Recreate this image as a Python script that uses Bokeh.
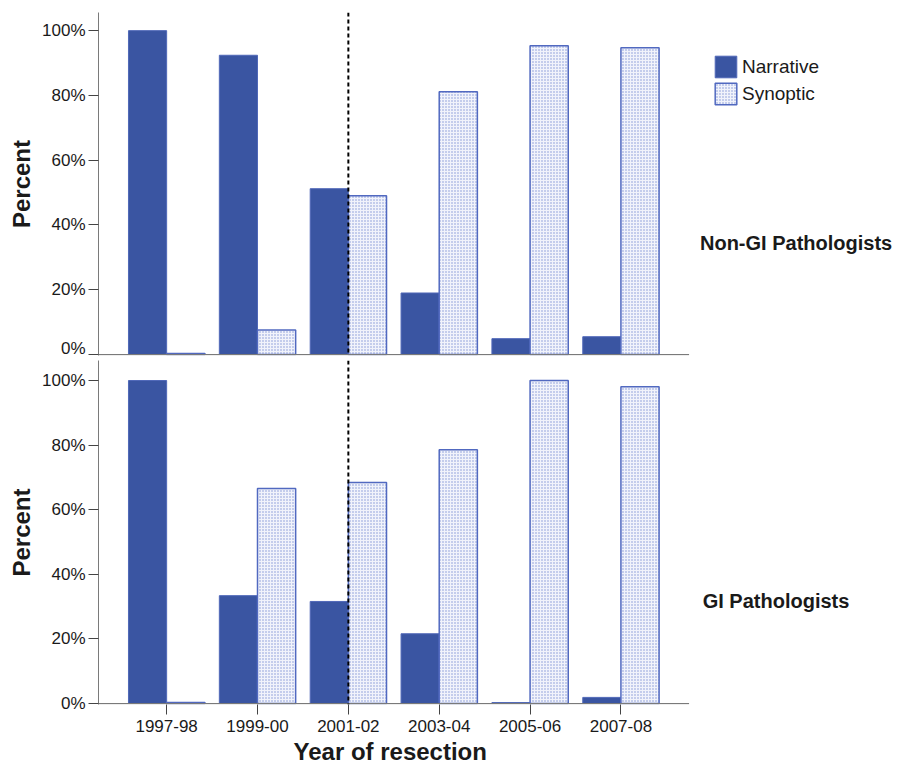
from bokeh.plotting import figure
from bokeh.models import (Range1d, FixedTicker, PrintfTickFormatter, Span, Label,
                          Legend, LegendItem, ColumnDataSource, Title)
from bokeh.transform import dodge
from bokeh.layouts import column
from bokeh.embed import file_html
from bokeh.resources import INLINE

# ---- data ----
years = ["1997-98", "1999-00", "2001-02", "2003-04", "2005-06", "2007-08"]
series = ["Narrative", "Synoptic"]
nongi_narrative = [100.0, 92.4, 51.2, 19.0, 4.9, 5.5]
nongi_synoptic = [0.3, 7.6, 49.0, 81.1, 95.3, 94.7]
gi_narrative = [100.0, 33.4, 31.6, 21.6, 0.3, 1.9]
gi_synoptic = [0.3, 66.6, 68.4, 78.6, 100.0, 98.1]
y_ticks = [0, 20, 40, 60, 80, 100]
divider_year = "2001-02"
panel_names = ["Non-GI Pathologists", "GI Pathologists"]
x_label = "Year of resection"
y_label = "Percent"

FONT = "Liberation Sans"
NAR_FILL = "#3a55a2"
NAR_LINE = "#5068b8"
SYN_FILL = "#f1f3fb"
SYN_HATCH = "#8093d4"
SYN_LINE = "#5169c0"
AXIS_COL = "#7a7a7a"
TEXT_COL = "#1a1a1a"

N = len(years)
X_START = -0.75
X_END = 8.0          # frame extends to the right to hold legend / panel names
BAR_W = 0.42


def make_panel(nar, syn, name, bottom, name_x, name_y):
    src = ColumnDataSource(dict(x=list(range(N)), nar=nar, syn=syn))
    base = ColumnDataSource(dict(x0=[X_START], x1=[N - 0.25], y=[0]))
    fh = 344 if bottom else 343
    ytop = 106.2 if bottom else 105.6
    p = figure(frame_width=795, frame_height=fh,
               x_range=Range1d(X_START, X_END),
               y_range=Range1d(-0.3, ytop),
               x_axis_location="below" if bottom else None,
               output_backend="svg", toolbar_location=None,
               min_border_left=98, min_border_right=0,
               min_border_top=3 if bottom else 12,
               min_border_bottom=0 if bottom else 2)
    p.outline_line_color = None
    p.grid.visible = False
    p.background_fill_color = "white"

    r_nar = p.vbar(x=dodge("x", -BAR_W / 2, range=p.x_range), top="nar", width=BAR_W,
                   source=src, fill_color=NAR_FILL, line_color=NAR_LINE, line_width=1)
    r_syn = p.vbar(x=dodge("x", BAR_W / 2, range=p.x_range), top="syn", width=BAR_W,
                   source=src, fill_color=SYN_FILL, line_color=SYN_LINE, line_width=1.5,
                   hatch_pattern="dot", hatch_color=SYN_HATCH, hatch_scale=3,
                   hatch_weight=1.6)

    # category baseline (x axis line) limited to the category span
    p.segment(x0="x0", y0="y", x1="x1", y1="y", source=base,
              line_color=AXIS_COL, line_width=1.2)

    # y axis
    ya = p.yaxis[0]
    ya.ticker = FixedTicker(ticks=y_ticks)
    ya.formatter = PrintfTickFormatter(format="%d%%")
    ya.minor_tick_line_color = None
    ya.major_tick_in = 0
    ya.major_tick_out = 10
    ya.major_tick_line_color = "#444444"
    ya.axis_line_color = AXIS_COL
    ya.major_label_text_font = FONT
    ya.major_label_text_font_size = "17px"
    ya.major_label_text_color = TEXT_COL
    ya.major_label_standoff = 3
    ya.axis_label = y_label
    ya.axis_label_text_font = FONT
    ya.axis_label_text_font_style = "bold"
    ya.axis_label_text_font_size = "24px"
    ya.axis_label_text_color = TEXT_COL
    ya.axis_label_standoff = 4

    if bottom:
        xa = p.xaxis[0]
        xa.ticker = FixedTicker(ticks=list(range(N)))
        xa.major_label_overrides = {i: y for i, y in enumerate(years)}
        xa.minor_tick_line_color = None
        xa.major_tick_in = 0
        xa.major_tick_out = 10
        xa.major_tick_line_color = "#444444"
        xa.axis_line_color = None
        xa.major_label_text_font = FONT
        xa.major_label_text_font_size = "17px"
        xa.major_label_text_color = TEXT_COL
        xa.major_label_standoff = 5
        # x axis title, centred under the category span
        p.add_layout(Title(text=x_label, align="left", offset=195, standoff=2,
                           text_font=FONT, text_font_style="bold",
                           text_font_size="24px", text_color=TEXT_COL), "below")

    p.add_layout(Span(location=years.index(divider_year), dimension="height",
                      line_color="black", line_dash="4 3", line_width=2))

    p.add_layout(Label(x=name_x, y=name_y, text=name, text_font=FONT,
                       text_font_style="bold", text_font_size="20px",
                       text_color=TEXT_COL, text_baseline="alphabetic"))
    return p, r_nar, r_syn


p_top, rn, rs = make_panel(nongi_narrative, nongi_synoptic, panel_names[0], False, 5.87, 34.3)
p_bot, _, _ = make_panel(gi_narrative, gi_synoptic, panel_names[1], True, 5.90, 31.6)

legend = Legend(items=[LegendItem(label=series[0], renderers=[rn]),
                       LegendItem(label=series[1], renderers=[rs])],
                location=(614, 248), orientation="vertical",
                glyph_width=27, glyph_height=27, spacing=0, label_standoff=3,
                padding=0, margin=0, border_line_color=None,
                background_fill_alpha=0,
                label_text_font=FONT, label_text_font_size="19px",
                label_text_color=TEXT_COL)
p_top.add_layout(legend)

layout = column(p_top, p_bot, spacing=0)
open("out.html", "w").write(file_html(layout, INLINE))
